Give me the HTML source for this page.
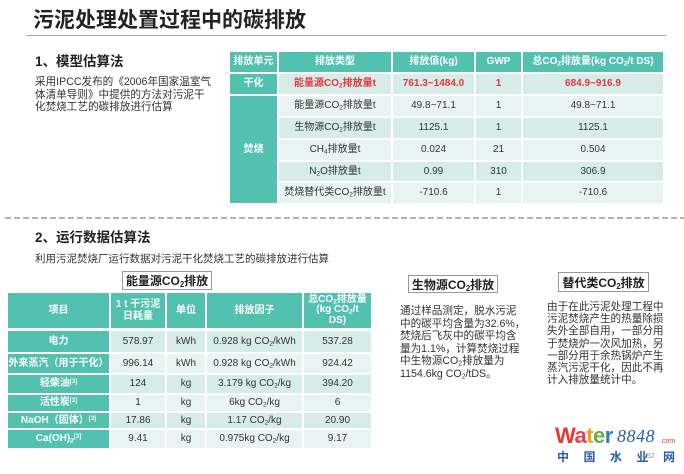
<!DOCTYPE html>
<html><head><meta charset="utf-8">
<style>
html,body{margin:0;padding:0;background:#fff;}
body{width:684px;height:474px;position:relative;overflow:hidden;font-family:"Liberation Sans","Noto Sans CJK SC",sans-serif;color:#333;}
.a{position:absolute;white-space:nowrap;}
.c{position:absolute;display:flex;align-items:center;justify-content:center;text-align:center;white-space:nowrap;line-height:1.15;}
.h{background:#52c1b0;color:#fff;font-weight:bold;}
.d1{background:#d7ece9;}
.d2{background:#e8f4f2;}
.t{font-size:10px;}
.red{color:#e0383d;font-weight:bold;}
sub{font-size:0.65em;vertical-align:-0.25em;line-height:0;}
sup{font-size:0.6em;vertical-align:0.5em;line-height:0;}
.box{position:absolute;border:1px solid #9a9a9a;display:flex;align-items:center;justify-content:center;font-weight:bold;font-size:12px;color:#222;box-sizing:border-box;}
.p{position:absolute;font-size:10.6px;color:#333;white-space:nowrap;}
</style></head><body>

<div class="a" style="left:33px;top:7px;font-size:21px;font-weight:bold;color:#222;line-height:28px;">污泥处理处置过程中的碳排放</div>
<div class="a" style="left:26px;top:35px;width:640px;height:1px;background:#aaa;"></div>

<div class="a" style="left:35px;top:53px;font-size:13.5px;font-weight:bold;color:#222;line-height:18px;">1、模型估算法</div>
<div class="p" style="left:35px;top:76px;font-size:10.6px;line-height:12.6px;">采用IPCC发布的《2006年国家温室气<br>体清单导则》中提供的方法对污泥干<br>化焚烧工艺的碳排放进行估算</div>

<!-- top table -->
<div class="c h t" style="left:230px;top:52px;width:47px;height:20px;"><span>排放单元</span></div>
<div class="c h t" style="left:279px;top:52px;width:112px;height:20px;"><span>排放类型</span></div>
<div class="c h t" style="left:393px;top:52px;width:81px;height:20px;"><span>排放值(kg)</span></div>
<div class="c h t" style="left:476px;top:52px;width:45px;height:20px;"><span>GWP</span></div>
<div class="c h t" style="left:523px;top:52px;width:140px;height:20px;"><span>总CO<sub>2</sub>排放量(kg CO<sub>2</sub>/t DS)</span></div>

<div class="c h t" style="left:230px;top:74px;width:47px;height:20px;"><span>干化</span></div>
<div class="c d1 t red" style="left:279px;top:74px;width:112px;height:20px;"><span>能量源CO<sub>2</sub>排放量t</span></div>
<div class="c d1 t red" style="left:393px;top:74px;width:81px;height:20px;"><span>761.3~1484.0</span></div>
<div class="c d1 t red" style="left:476px;top:74px;width:45px;height:20px;"><span>1</span></div>
<div class="c d1 t red" style="left:523px;top:74px;width:140px;height:20px;"><span>684.9~916.9</span></div>

<div class="c h t" style="left:230px;top:96px;width:47px;height:107px;"><span>焚烧</span></div>

<div class="c d2 t" style="left:279px;top:96px;width:112px;height:20px;"><span>能量源CO<sub>2</sub>排放量t</span></div>
<div class="c d2 t" style="left:393px;top:96px;width:81px;height:20px;"><span>49.8~71.1</span></div>
<div class="c d2 t" style="left:476px;top:96px;width:45px;height:20px;"><span>1</span></div>
<div class="c d2 t" style="left:523px;top:96px;width:140px;height:20px;"><span>49.8~71.1</span></div>

<div class="c d1 t" style="left:279px;top:118px;width:112px;height:20px;"><span>生物源CO<sub>2</sub>排放量t</span></div>
<div class="c d1 t" style="left:393px;top:118px;width:81px;height:20px;"><span>1125.1</span></div>
<div class="c d1 t" style="left:476px;top:118px;width:45px;height:20px;"><span>1</span></div>
<div class="c d1 t" style="left:523px;top:118px;width:140px;height:20px;"><span>1125.1</span></div>

<div class="c d2 t" style="left:279px;top:140px;width:112px;height:20px;"><span>CH<sub>4</sub>排放量t</span></div>
<div class="c d2 t" style="left:393px;top:140px;width:81px;height:20px;"><span>0.024</span></div>
<div class="c d2 t" style="left:476px;top:140px;width:45px;height:20px;"><span>21</span></div>
<div class="c d2 t" style="left:523px;top:140px;width:140px;height:20px;"><span>0.504</span></div>

<div class="c d1 t" style="left:279px;top:162px;width:112px;height:19px;"><span>N<sub>2</sub>O排放量t</span></div>
<div class="c d1 t" style="left:393px;top:162px;width:81px;height:19px;"><span>0.99</span></div>
<div class="c d1 t" style="left:476px;top:162px;width:45px;height:19px;"><span>310</span></div>
<div class="c d1 t" style="left:523px;top:162px;width:140px;height:19px;"><span>306.9</span></div>

<div class="c d2 t" style="left:279px;top:183px;width:112px;height:20px;"><span>焚烧替代类CO<sub>2</sub>排放量t</span></div>
<div class="c d2 t" style="left:393px;top:183px;width:81px;height:20px;"><span>-710.6</span></div>
<div class="c d2 t" style="left:476px;top:183px;width:45px;height:20px;"><span>1</span></div>
<div class="c d2 t" style="left:523px;top:183px;width:140px;height:20px;"><span>-710.6</span></div>

<!-- dashed separator -->
<svg class="a" style="left:0;top:212px;" width="684" height="10"><line x1="5" y1="6" x2="684" y2="6" stroke="#666" stroke-width="1" stroke-dasharray="6,3"/></svg>

<div class="a" style="left:35px;top:229px;font-size:13.5px;font-weight:bold;color:#222;line-height:18px;">2、运行数据估算法</div>
<div class="a" style="left:35px;top:252px;font-size:10.5px;color:#333;line-height:14px;">利用污泥焚烧厂运行数据对污泥干化焚烧工艺的碳排放进行估算</div>

<div class="box" style="left:122px;top:271px;width:90px;height:19px;"><span>能量源CO<sub>2</sub>排放</span></div>
<div class="box" style="left:408px;top:275px;width:90px;height:18px;"><span>生物源CO<sub>2</sub>排放</span></div>
<div class="box" style="left:558px;top:272px;width:91px;height:20px;"><span>替代类CO<sub>2</sub>排放</span></div>

<!-- bottom table -->
<div class="c h t" style="left:8px;top:293px;width:101px;height:35px;"><span>项目</span></div>
<div class="c h t" style="left:111px;top:293px;width:54px;height:35px;"><span>1 t 干污泥<br>日耗量</span></div>
<div class="c h t" style="left:167px;top:293px;width:38px;height:35px;"><span>单位</span></div>
<div class="c h t" style="left:207px;top:293px;width:95px;height:35px;"><span>排放因子</span></div>
<div class="c h t" style="left:304px;top:293px;width:67px;height:35px;line-height:1.05;"><span>总CO<sub>2</sub>排放量<br>(kg CO<sub>2</sub>/t<br>DS)</span></div>

<div class="c h t" style="left:8px;top:331px;width:101px;height:21px;"><span>电力</span></div>
<div class="c d1 t" style="left:111px;top:331px;width:54px;height:21px;"><span>578.97</span></div>
<div class="c d1 t" style="left:167px;top:331px;width:38px;height:21px;"><span>kWh</span></div>
<div class="c d1 t" style="left:207px;top:331px;width:95px;height:21px;"><span>0.928 kg CO<sub>2</sub>/kWh</span></div>
<div class="c d1 t" style="left:304px;top:331px;width:67px;height:21px;"><span>537.28</span></div>

<div class="c h t" style="left:8px;top:354px;width:101px;height:19px;"><span>外来蒸汽（用于干化）</span></div>
<div class="c d2 t" style="left:111px;top:354px;width:54px;height:19px;"><span>996.14</span></div>
<div class="c d2 t" style="left:167px;top:354px;width:38px;height:19px;"><span>kWh</span></div>
<div class="c d2 t" style="left:207px;top:354px;width:95px;height:19px;"><span>0.928 kg CO<sub>2</sub>/kWh</span></div>
<div class="c d2 t" style="left:304px;top:354px;width:67px;height:19px;"><span>924.42</span></div>

<div class="c h t" style="left:8px;top:375px;width:101px;height:18px;"><span>轻柴油<sup>[3]</sup></span></div>
<div class="c d1 t" style="left:111px;top:375px;width:54px;height:18px;"><span>124</span></div>
<div class="c d1 t" style="left:167px;top:375px;width:38px;height:18px;"><span>kg</span></div>
<div class="c d1 t" style="left:207px;top:375px;width:95px;height:18px;"><span>3.179 kg CO<sub>2</sub>/kg</span></div>
<div class="c d1 t" style="left:304px;top:375px;width:67px;height:18px;"><span>394.20</span></div>

<div class="c h t" style="left:8px;top:395px;width:101px;height:16px;"><span>活性炭<sup>[3]</sup></span></div>
<div class="c d2 t" style="left:111px;top:395px;width:54px;height:16px;"><span>1</span></div>
<div class="c d2 t" style="left:167px;top:395px;width:38px;height:16px;"><span>kg</span></div>
<div class="c d2 t" style="left:207px;top:395px;width:95px;height:16px;"><span>6kg CO<sub>2</sub>/kg</span></div>
<div class="c d2 t" style="left:304px;top:395px;width:67px;height:16px;"><span>6</span></div>

<div class="c h t" style="left:8px;top:413px;width:101px;height:15px;"><span>NaOH（固体）<sup>[3]</sup></span></div>
<div class="c d1 t" style="left:111px;top:413px;width:54px;height:15px;"><span>17.86</span></div>
<div class="c d1 t" style="left:167px;top:413px;width:38px;height:15px;"><span>kg</span></div>
<div class="c d1 t" style="left:207px;top:413px;width:95px;height:15px;"><span>1.17 CO<sub>2</sub>/kg</span></div>
<div class="c d1 t" style="left:304px;top:413px;width:67px;height:15px;"><span>20.90</span></div>

<div class="c h t" style="left:8px;top:430px;width:101px;height:18px;"><span>Ca(OH)<sub>2</sub><sup>[3]</sup></span></div>
<div class="c d2 t" style="left:111px;top:430px;width:54px;height:18px;"><span>9.41</span></div>
<div class="c d2 t" style="left:167px;top:430px;width:38px;height:18px;"><span>kg</span></div>
<div class="c d2 t" style="left:207px;top:430px;width:95px;height:18px;"><span>0.975kg CO<sub>2</sub>/kg</span></div>
<div class="c d2 t" style="left:304px;top:430px;width:67px;height:18px;"><span>9.17</span></div>

<!-- right paragraphs -->
<div class="p" style="left:400px;top:305px;line-height:12.6px;">通过样品测定，脱水污泥<br>中的碳平均含量为32.6%，<br>焚烧后飞灰中的碳平均含<br>量为1.1%，计算焚烧过程<br>中生物源CO<sub>2</sub>排放量为<br>1154.6kg CO<sub>2</sub>/tDS。</div>
<div class="p" style="left:547px;top:301px;line-height:12.2px;">由于在此污泥处理工程中<br>污泥焚烧产生的热量除损<br>失外全部自用，一部分用<br>于焚烧炉一次风加热，另<br>一部分用于余热锅炉产生<br>蒸汽污泥干化，因此不再<br>计入排放量统计中。</div>

<!-- watermark -->
<div class="a" style="left:555px;top:424px;font-size:22px;font-weight:bold;line-height:24px;letter-spacing:-0.5px;"><span style="color:#e23a33">W</span><span style="color:#e0405a">a</span><span style="color:#f2a31b">t</span><span style="color:#5db244">e</span><span style="color:#2f7cc2">r</span></div>
<div class="a" style="left:617px;top:426px;font-size:18px;font-style:italic;font-family:'Liberation Serif',serif;color:#2a5ca8;line-height:20px;letter-spacing:0.5px;">8848</div>
<div class="a" style="left:660px;top:438px;font-size:7px;color:#e23a33;line-height:8px;">.com</div>
<div class="a" style="left:557px;top:450px;font-size:12px;font-weight:bold;color:#2a5ca8;line-height:14px;letter-spacing:14.5px;">中国水业网</div>
<div class="a" style="left:647px;top:453px;font-size:7px;color:#999;line-height:8px;">32</div>

</body></html>
